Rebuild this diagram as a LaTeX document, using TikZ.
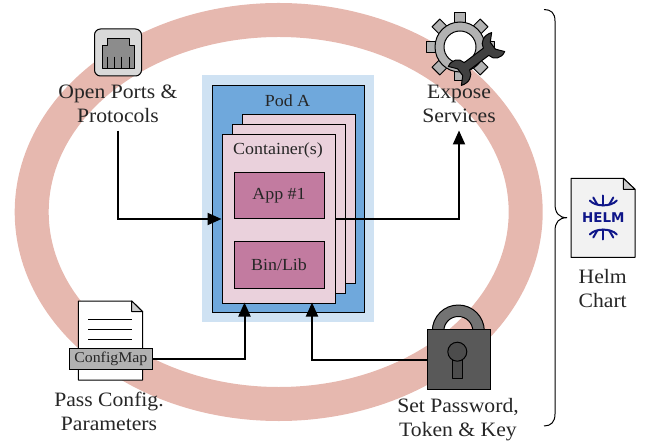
\documentclass[tikz,border=0pt]{standalone}
\usepackage{fontspec}
\setmainfont[FakeStretch=1.06]{Liberation Serif}
\newfontfamily\logofont{DejaVu Sans}
\usetikzlibrary{arrows.meta,positioning,calc,shapes.geometric}
\definecolor{ringred}{HTML}{E6B8AF}
\definecolor{podlight}{HTML}{CFE2F3}
\definecolor{podblue}{HTML}{6FA8DC}
\definecolor{ctrpink}{HTML}{EAD1DC}
\definecolor{apppink}{HTML}{C27BA0}
\definecolor{helmblue}{HTML}{0F1689}
\tikzset{
	box/.style={draw=black,line width=1bp,rectangle,inner sep=0pt,anchor=north west},
	caption/.style={align=center,font=\fontsize{20.5}{24.1}\selectfont,inner xsep=0pt,inner ysep=0bp,text=black!85},
	title/.style={font=\fontsize{17}{19}\selectfont,inner sep=0pt,text=black!85},
	conn/.style={line width=2bp,-{Triangle[length=14bp,width=12bp]}},
	iconline/.style={draw=black,line width=1bp,line join=round},
	helmline/.style={draw=helmblue,line width=2bp,line cap=round},
}
\begin{document}
\begin{tikzpicture}[x=1bp,y=-1bp]
	\useasboundingbox (0,0) rectangle (651,447);
	\node (ring) [draw=ringred,line width=34bp,ellipse,minimum width=494bp,minimum height=384bp,inner sep=0pt] at (278.7,212) {};
	% pod and containers
	\node (podback) [rectangle,fill=podlight,inner sep=0pt,anchor=north west,minimum width=172bp,minimum height=247bp] at (202,75) {};
	\node (pod) [box,fill=podblue,minimum width=152bp,minimum height=227bp] at (212,85) {};
	\node (podname) [title] at (287.5,101) {Pod A};
	\node (ctrback) [box,fill=ctrpink,minimum width=113bp,minimum height=168bp] at (241.5,114.5) {};
	\node (ctrmid) [box,fill=ctrpink,minimum width=113bp,minimum height=168bp] at (231.5,124.5) {};
	\node (ctrfront) [box,fill=ctrpink,minimum width=113bp,minimum height=168bp] at (221.5,134.5) {};
	\node (ctrname) [title] at (278,150) {Container(s)};
	\node (app) [box,fill=apppink,minimum width=90bp,minimum height=46bp,title] at (233.5,172.5) {App \#1};
	\node (binlib) [box,fill=apppink,minimum width=90bp,minimum height=46bp,title] at (233.5,241.5) {Bin/Lib};
	\coordinate (cfgin) at (244.5,302.5);
	\coordinate (lockin) at (312,302.5);
	% open ports icon
	\node (jack) [draw=black,line width=1bp,fill=black!15,rounded corners=6bp,rectangle,minimum width=47bp,minimum height=47bp,inner sep=0pt] at (118,52.5) {};
	\draw[iconline,fill=black!45] (102,68.3) -- (102,46) -- (107.3,46) -- (107.3,38.7) -- (129,38.7) -- (129,46) -- (134,46) -- (134,68.3) -- cycle;
	\foreach \pinx in {107.3,114.5,121.7,129}
		\draw[iconline] (\pinx,56.7) -- (\pinx,68.3);
	\node (ports) [caption] at (118,103.5) {Open Ports \&\\Protocols};
	% expose services icon
	\foreach \ang in {0,45,...,315}
		\draw[iconline,fill=black!30,shift={(460,47)},rotate=\ang] (22,-5.5) rectangle (34,5.5);
	\draw[iconline,fill=black!30] (460,47) circle [radius=25bp];
	\draw[iconline,fill=white] (460,47) circle [radius=16bp];
	\begin{scope}[shift={(476.5,59)},rotate=37]
		\draw[iconline,fill=black!75] (-12,-4.5) -- (12,-4.5) .. controls (13,-11) and (20,-15) .. (28,-12) -- (21,-5) -- (21,3.5) -- (27,11) .. controls (20,15) and (13,11) .. (12,4.5)
			-- (-12,4.5) .. controls (-13,11) and (-20,15) .. (-28,12) -- (-21,5) -- (-21,-3.5) -- (-27,-11) .. controls (-20,-15) and (-13,-11) .. (-12,-4.5) -- cycle;
	\end{scope}
	\node (services) [caption] at (459,103.5) {Expose\\Services};
	% config map icon
	\draw[iconline,fill=white] (78.3,301) -- (131.7,301) -- (142.7,311.7) -- (142.7,380) -- (78.3,380) -- cycle;
	\draw[iconline,fill=black!20] (131.7,301) -- (142.7,311.7) -- (131.7,311.7) -- cycle;
	\foreach \liney in {319.3,329.3,339.3}
		\draw[iconline] (88.3,\liney) -- (132.3,\liney);
	\node (cfgbox) [box,fill=black!30,minimum width=82.7bp,minimum height=21bp,font=\fontsize{15}{17}\selectfont,text=black!85] at (69,348.3) {ConfigMap};
	\node (params) [caption] at (109,411) {Pass Config.\\Parameters};
	% lock icon
	\draw[iconline,fill=black!55] (432.3,331) arc [start angle=180,end angle=0,radius=26bp] -- (472.8,331) arc [start angle=0,end angle=180,radius=14.5bp] -- cycle;
	\node (lockbody) [box,fill=black!65,minimum width=63.3bp,minimum height=59.7bp] at (426.7,329.3) {};
	\draw[iconline,fill=black!70] (452.3,378.3) -- (452.3,355) -- (462.7,355) -- (462.7,378.3) -- cycle;
	\draw[iconline,fill=black!70] (457.3,351.7) circle [radius=9.5bp];
	\node (secrets) [caption] at (458,420) {Set Password,\\Token \& Key};
	% helm chart
	\coordinate (bracetop) at (544,9.5);
	\coordinate (bracetip) at (567,217.7);
	\coordinate (bracebot) at (544,426);
	\draw[line width=1bp] (bracetop) .. controls (551,9.5) and (555,13) .. (555,21) -- (555,204) .. controls (555,213) and (559,217.7) .. (bracetip) .. controls (559,217.7) and (555,222) .. (555,231) -- (555,414) .. controls (555,422) and (551,426) .. (bracebot);
	\draw[iconline,fill=black!5] (571,178.3) -- (623.3,178.3) -- (635,189.3) -- (635,257.3) -- (571,257.3) -- cycle;
	\draw[iconline,fill=black!20] (623.3,178.3) -- (635,189.3) -- (623.3,189.3) -- cycle;
	\node (helmlogo) [font=\logofont\bfseries\fontsize{13.5}{14}\selectfont,text=helmblue,inner sep=0pt] at (603.3,217.5) {HELM};
	\foreach \flip in {1,-1} {
		\begin{scope}[shift={(603.3,217.5)},yscale=\flip]
			\draw[helmline] (-13.5,-17) .. controls (-8,-10.5) and (8,-10.5) .. (13.5,-17);
			\draw[helmline] (0,-22) -- (0,-12);
			\draw[helmline] (-10,-20) -- (-6,-13);
			\draw[helmline] (10,-20) -- (6,-13);
		\end{scope}
	}
	\node (helmtext) [caption] at (602.7,288.5) {Helm\\Chart};
	% connectors
	\draw[conn] ([yshift=-8bp]ports.south) |- (ctrfront.west);
	\draw[conn] (ctrfront.east) -| ([yshift=-8bp]services.south);
	\draw[conn] (cfgbox.east) -| (cfgin);
	\draw[conn] (lockbody.west) -| (lockin);
\end{tikzpicture}
\end{document}
